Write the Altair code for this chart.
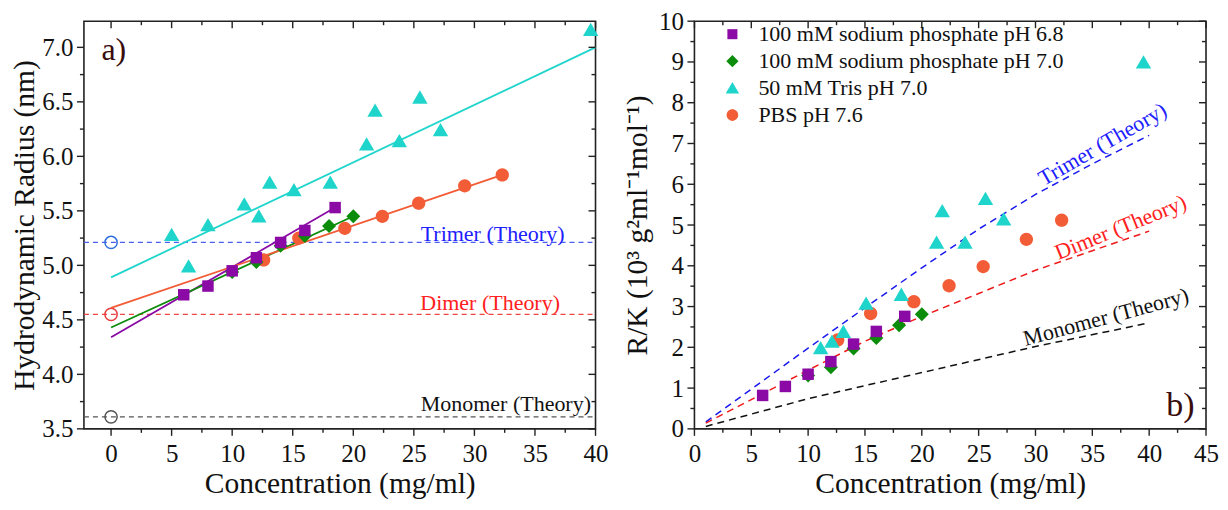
import altair as alt
import pandas as pd

FONT = "Liberation Serif"

# ---------------- data ----------------
series = ["100 mM sodium phosphate pH 6.8", "100 mM sodium phosphate pH 7.0",
          "50 mM Tris pH 7.0", "PBS pH 7.6"]
colors = ["#8b0aa5", "#0b8c0b", "#1fd5cb", "#f25c36"]
# symbol outlines in a [-1, 1] box (square, diamond, triangle, circle)
shapes = ["M-0.82,-0.82L0.82,-0.82L0.82,0.82L-0.82,0.82Z",
          "M0,-1L1,0L0,1L-1,0Z",
          "M0,-1.02L1.1,0.88L-1.1,0.88Z",
          "M-0.95,0A0.95,0.95 0 1,0 0.95,0A0.95,0.95 0 1,0 -0.95,0Z"]

# panel a) hydrodynamic radius (nm)
purple_x_L = [6.0, 8.0, 10.0, 12.0, 14.0, 16.0, 18.5]
purple_y_L = [4.73, 4.81, 4.95, 5.07, 5.21, 5.32, 5.53]
green_x_L = [10.0, 12.0, 14.0, 16.0, 18.0, 20.0]
green_y_L = [4.94, 5.03, 5.18, 5.27, 5.36, 5.45]
cyan_x_L = [5.0, 6.4, 8.0, 11.0, 12.2, 13.1, 15.1, 18.1, 21.1, 21.8, 23.8, 25.5, 27.2, 39.6]
cyan_y_L = [5.28, 4.99, 5.37, 5.56, 5.45, 5.76, 5.69, 5.76, 6.11, 6.42, 6.14, 6.54, 6.24, 7.16]
orange_x_L = [12.6, 15.5, 19.3, 22.4, 25.4, 29.2, 32.3]
orange_y_L = [5.05, 5.25, 5.34, 5.45, 5.57, 5.73, 5.83]

# linear fits (end points)
fit_x0 = [0.0, 0.0, 0.0, 0.0]
fit_x1 = [18.5, 20.0, 40.0, 32.3]
fit_y0 = [4.34, 4.43, 4.89, 4.61]
fit_y1 = [5.53, 5.45, 7.0, 5.83]

# theory levels panel a)
theory_names = ["Trimer (Theory)", "Dimer (Theory)", "Monomer (Theory)"]
theory_levels = [5.21, 4.55, 3.61]
theory_line_colors_L = ["#4a5ff0", "#f04545", "#555555"]
theory_circle_colors = ["#2f6fe0", "#e83a3a", "#555555"]
theory_text_colors = ["#2020ff", "#ff2020", "#111111"]
theory_text_x_L = [31.5, 31.3, 32.6]
theory_text_y_L = [5.29, 4.65, 3.727]

# panel b) R/K
purple_x_R = [6.0, 8.0, 10.0, 12.0, 14.0, 16.0, 18.5]
purple_y_R = [0.82, 1.04, 1.34, 1.65, 2.08, 2.39, 2.76]
green_x_R = [10.0, 12.0, 14.0, 16.0, 18.0, 20.0]
green_y_R = [1.31, 1.51, 1.97, 2.23, 2.54, 2.81]
cyan_x_R = [11.1, 12.1, 13.1, 15.1, 18.2, 21.3, 21.8, 23.8, 25.6, 27.2, 39.5]
cyan_y_R = [1.98, 2.14, 2.38, 3.07, 3.29, 4.57, 5.34, 4.57, 5.64, 5.14, 8.99]
orange_x_R = [12.6, 15.5, 19.3, 22.4, 25.4, 29.2, 32.3]
orange_y_R = [2.18, 2.83, 3.12, 3.51, 3.98, 4.65, 5.12]

trimer_x_R = [1, 10, 15, 20, 25, 30, 35, 40]
trimer_y_R = [0.17, 1.98, 2.97, 3.95, 4.9, 5.75, 6.5, 7.2]
dimer_x_R = [1, 10, 15, 20, 25, 30, 35, 40]
dimer_y_R = [0.14, 1.44, 2.15, 2.76, 3.32, 3.89, 4.37, 4.85]
monomer_x_R = [1, 10, 20, 30, 40]
monomer_y_R = [0.06, 0.74, 1.38, 2.02, 2.6]
theory_line_colors_R = ["#1a1aee", "#ee1a1a", "#111111"]
theory_text_x_R = [35.9, 37.5, 36.2]
theory_text_y_R = [6.98, 4.94, 2.74]
theory_text_angle_R = [330, 338, 345]

# axes ticks
xmaj_L = [0, 5, 10, 15, 20, 25, 30, 35, 40]
xmin_L = [2.5, 7.5, 12.5, 17.5, 22.5, 27.5, 32.5, 37.5]
ymaj_L = [3.5, 4.0, 4.5, 5.0, 5.5, 6.0, 6.5, 7.0]
ymin_L = [3.75, 4.25, 4.75, 5.25, 5.75, 6.25, 6.75]
xmaj_R = [0, 5, 10, 15, 20, 25, 30, 35, 40, 45]
xmin_R = [2.5, 7.5, 12.5, 17.5, 22.5, 27.5, 32.5, 37.5, 42.5]
ymaj_R = [0, 1, 2, 3, 4, 5, 6, 7, 8, 9, 10]
ymin_R = [0.5, 1.5, 2.5, 3.5, 4.5, 5.5, 6.5, 7.5, 8.5, 9.5]

xdom_L = [-2.24, 40.0]
ydom_L = [3.5, 7.24]
xdom_R = [0.0, 45.0]
ydom_R = [0.0, 10.0]

W_L, H = 512, 408
W_R = 512
MARK_SIZE = 196

# ---------------- helpers ----------------
def points_df(xs_list, ys_list):
    rows = []
    for s, xs, ys in zip(series, xs_list, ys_list):
        for xv, yv in zip(xs, ys):
            rows.append({"series": s, "x": xv, "y": yv})
    return pd.DataFrame(rows)


def tick_layers(X, Y, W, xmaj, xmin, ymaj, ymin):
    tk = dict(color="#222222", strokeWidth=1.4)
    fx = lambda v: pd.DataFrame({"x": v})
    fy = lambda v: pd.DataFrame({"y": v})
    L = []
    for vals, ln in ((xmaj, 7), (xmin, 4)):
        L.append(alt.Chart(fx(vals)).mark_rule(**tk).encode(x=X, y=alt.value(H), y2=alt.value(H + ln)))
        L.append(alt.Chart(fx(vals)).mark_rule(**tk).encode(x=X, y=alt.value(0), y2=alt.value(ln)))
    for vals, ln in ((ymaj, 7), (ymin, 4)):
        L.append(alt.Chart(fy(vals)).mark_rule(**tk).encode(y=Y, x=alt.value(0), x2=alt.value(-ln)))
        L.append(alt.Chart(fy(vals)).mark_rule(**tk).encode(y=Y, x=alt.value(W - ln), x2=alt.value(W)))
    return L


def color_enc(legend):
    return alt.Color("series:N", scale=alt.Scale(domain=series, range=colors), legend=legend)


def shape_enc(legend):
    return alt.Shape("series:N", scale=alt.Scale(domain=series, range=shapes), legend=legend)


# ---------------- panel a ----------------
XL = alt.X("x:Q", scale=alt.Scale(domain=xdom_L, nice=False, zero=False),
           axis=alt.Axis(values=xmaj_L, format="d", labelPadding=13, titlePadding=3, labelFlush=False),
           title="Concentration (mg/ml)")
YL = alt.Y("y:Q", scale=alt.Scale(domain=ydom_L, nice=False, zero=False),
           axis=alt.Axis(values=ymaj_L, format=".1f", labelPadding=11, titlePadding=2),
           title="Hydrodynamic Radius (nm)")

layers_L = []
for name, lvl, lc, cc, tc, tx, ty in zip(theory_names, theory_levels, theory_line_colors_L,
                                         theory_circle_colors, theory_text_colors,
                                         theory_text_x_L, theory_text_y_L):
    layers_L.append(alt.Chart(pd.DataFrame({"x": xdom_L, "y": [lvl, lvl]}))
                    .mark_line(color=lc, strokeDash=[5, 4], strokeWidth=1.2).encode(x=XL, y=YL))
    layers_L.append(alt.Chart(pd.DataFrame({"x": [0.0], "y": [lvl]}))
                    .mark_point(shape="circle", filled=False, color=cc, size=150, strokeWidth=1.5, opacity=1)
                    .encode(x=XL, y=YL))
    layers_L.append(alt.Chart(pd.DataFrame({"x": [tx], "y": [ty], "t": [name]}))
                    .mark_text(font=FONT, fontSize=22, color=tc, align="center", baseline="middle")
                    .encode(x=XL, y=YL, text="t:N"))

fit_rows = []
for s, x0, x1, y0, y1 in zip(series, fit_x0, fit_x1, fit_y0, fit_y1):
    fit_rows += [{"series": s, "x": x0, "y": y0}, {"series": s, "x": x1, "y": y1}]
layers_L.append(alt.Chart(pd.DataFrame(fit_rows)).mark_line(strokeWidth=1.8)
                .encode(x=XL, y=YL, color=color_enc(None), detail="series:N"))

pts_L = points_df([purple_x_L, green_x_L, cyan_x_L, orange_x_L],
                  [purple_y_L, green_y_L, cyan_y_L, orange_y_L])
layers_L.append(alt.Chart(pts_L).mark_point(filled=True, opacity=1, strokeWidth=0, size=MARK_SIZE)
                .encode(x=XL, y=YL, color=color_enc(None), shape=shape_enc(None),
                        order=alt.Order("series:N", sort="descending")))

layers_L.append(alt.Chart(pd.DataFrame({"x": [-0.8], "y": [6.88], "t": ["a)"]}))
                .mark_text(font=FONT, fontSize=32, color="#3a0d0d", align="left", baseline="alphabetic")
                .encode(x=XL, y=YL, text="t:N"))
layers_L += tick_layers(XL, YL, W_L, xmaj_L, xmin_L, ymaj_L, ymin_L)

left = alt.layer(*layers_L).properties(width=W_L, height=H)

# ---------------- panel b ----------------
XR = alt.X("x:Q", scale=alt.Scale(domain=xdom_R, nice=False, zero=False),
           axis=alt.Axis(values=xmaj_R, format="d", labelPadding=13, titlePadding=3, labelFlush=False),
           title="Concentration (mg/ml)")
YR = alt.Y("y:Q", scale=alt.Scale(domain=ydom_R, nice=False, zero=False),
           axis=alt.Axis(values=ymaj_R, format="d", labelPadding=11, titlePadding=6),
           title="R/K (10³ g²ml⁻¹mol⁻¹)")

layers_R = []
for xs, ys, lc, name, tc, tx, ty, ta in zip([trimer_x_R, dimer_x_R, monomer_x_R],
                                            [trimer_y_R, dimer_y_R, monomer_y_R],
                                            theory_line_colors_R, theory_names, theory_text_colors,
                                            theory_text_x_R, theory_text_y_R, theory_text_angle_R):
    layers_R.append(alt.Chart(pd.DataFrame({"x": xs, "y": ys}))
                    .mark_line(color=lc, strokeDash=[7, 5], strokeWidth=1.5).encode(x=XR, y=YR))
    layers_R.append(alt.Chart(pd.DataFrame({"x": [tx], "y": [ty], "t": [name]}))
                    .mark_text(font=FONT, fontSize=22, color=tc, align="center", baseline="middle", angle=ta)
                    .encode(x=XR, y=YR, text="t:N"))

legend = alt.Legend(title=None, orient="none", legendX=27, legendY=2, labelFont=FONT,
                    labelFontSize=22, labelColor="#111111", symbolSize=150, symbolStrokeWidth=0,
                    rowPadding=5, labelOffset=15, padding=0, symbolOpacity=1, labelLimit=0)
pts_R = points_df([purple_x_R, green_x_R, cyan_x_R, orange_x_R],
                  [purple_y_R, green_y_R, cyan_y_R, orange_y_R])
layers_R.append(alt.Chart(pts_R).mark_point(filled=True, opacity=1, strokeWidth=0, size=MARK_SIZE)
                .encode(x=XR, y=YR, color=color_enc(legend), shape=shape_enc(legend),
                        order=alt.Order("series:N", sort="descending")))
layers_R.append(alt.Chart(pd.DataFrame({"x": [44.0], "y": [0.31], "t": ["b)"]}))
                .mark_text(font=FONT, fontSize=34, color="#3a0d0d", align="right", baseline="alphabetic")
                .encode(x=XR, y=YR, text="t:N"))
layers_R += tick_layers(XR, YR, W_R, xmaj_R, xmin_R, ymaj_R, ymin_R)

right = alt.layer(*layers_R).properties(width=W_R, height=H)

chart = (alt.hconcat(left, right, spacing=99, bounds="flush")
         .resolve_scale(color="independent", shape="independent")
         .properties(padding={"left": 0, "top": 0, "right": 0, "bottom": 0}, background="white")
         .configure_view(stroke="#222222", strokeWidth=1.6)
         .configure_axis(labelFont=FONT, titleFont=FONT, labelFontSize=25, titleFontSize=29.5,
                         titleFontWeight="normal", labelColor="#111111", titleColor="#111111",
                         grid=False, ticks=False, domain=False))

chart.save("out.html", embed_options={"renderer": "svg", "actions": False})
